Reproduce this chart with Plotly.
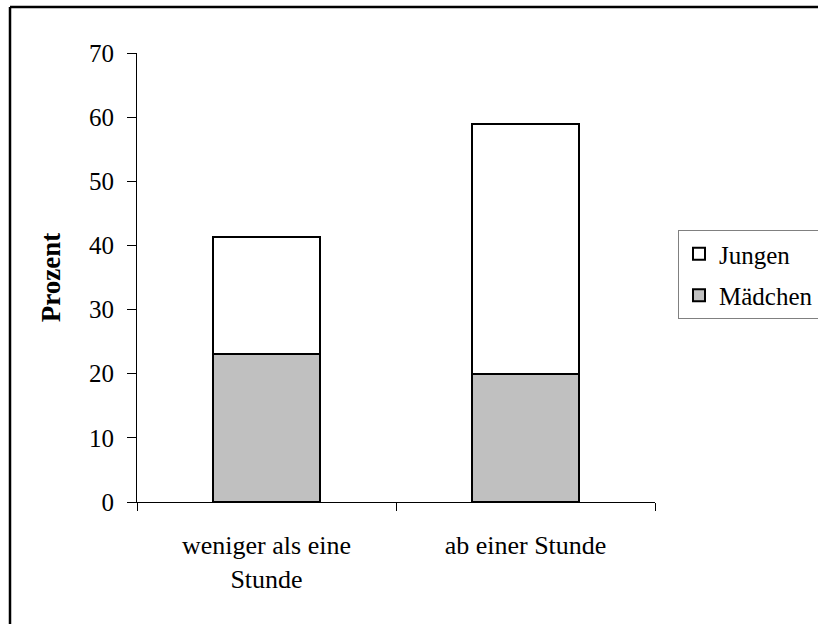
import plotly.graph_objects as go

# Anteile in Prozent je Nutzungsdauer
kategorien = ["weniger als eine<br>Stunde", "ab einer Stunde"]
maedchen = [23.0, 19.9]
jungen = [18.3, 39.0]

y_ticks = [0, 10, 20, 30, 40, 50, 60, 70]

FONT = "Liberation Serif"

fig = go.Figure()
fig.add_trace(go.Bar(
    x=kategorien, y=maedchen, name="Mädchen", legendgroup="m", legendrank=2,
    marker=dict(color="#C0C0C0", line=dict(color="black", width=2)),
    width=0.41,
))
fig.add_trace(go.Bar(
    x=kategorien, y=jungen, name="Jungen", legendgroup="j", legendrank=1,
    marker=dict(color="white", line=dict(color="black", width=2)),
    width=0.41,
))

W, H = 818, 624
L, R, T, B = 137, 163, 53, 122
pw, ph = W - L - R, H - T - B


def px_x(v):
    return (v - L) / pw


def px_y(v):
    return (H - B - v) / ph


fig.update_layout(
    width=W, height=H,
    margin=dict(l=L, r=R, t=T, b=B, autoexpand=False),
    barmode="stack",
    plot_bgcolor="white",
    paper_bgcolor="white",
    font=dict(family=FONT, size=26, color="black"),
    showlegend=True,
    legend=dict(
        traceorder="grouped",
        x=px_x(678), y=px_y(230), xanchor="left", yanchor="top",
        bordercolor="#808080", borderwidth=1,
        bgcolor="white",
        font=dict(family=FONT, size=25),
        itemwidth=30,
        tracegroupgap=6,
        entrywidth=150,
    ),
    xaxis=dict(
        showline=True, linecolor="black", linewidth=1,
        ticks="outside", ticklen=8, tickcolor="black", tickwidth=1,
        tickson="boundaries",
        showgrid=False, zeroline=False,
        tickfont=dict(family=FONT, size=26),
        ticklabelstandoff=20,
    ),
    yaxis=dict(
        range=[0, 70], tickvals=y_ticks,
        showline=True, linecolor="black", linewidth=1,
        ticks="outside", ticklen=9, tickcolor="black", tickwidth=1,
        showgrid=False, zeroline=False,
        tickfont=dict(family=FONT, size=25),
        ticklabelstandoff=8,
        title=dict(text="<b>Prozent</b>", font=dict(family=FONT, size=27), standoff=20),
    ),
    shapes=[
        # Rahmen um das Diagramm (oben und links)
        dict(type="line", xref="paper", yref="paper",
             x0=px_x(10), x1=px_x(830), y0=px_y(7), y1=px_y(7),
             line=dict(color="black", width=2.5)),
        dict(type="line", xref="paper", yref="paper",
             x0=px_x(10), x1=px_x(10), y0=px_y(7), y1=px_y(640),
             line=dict(color="black", width=2.5)),
    ],
)

fig.write_html("out.html")
